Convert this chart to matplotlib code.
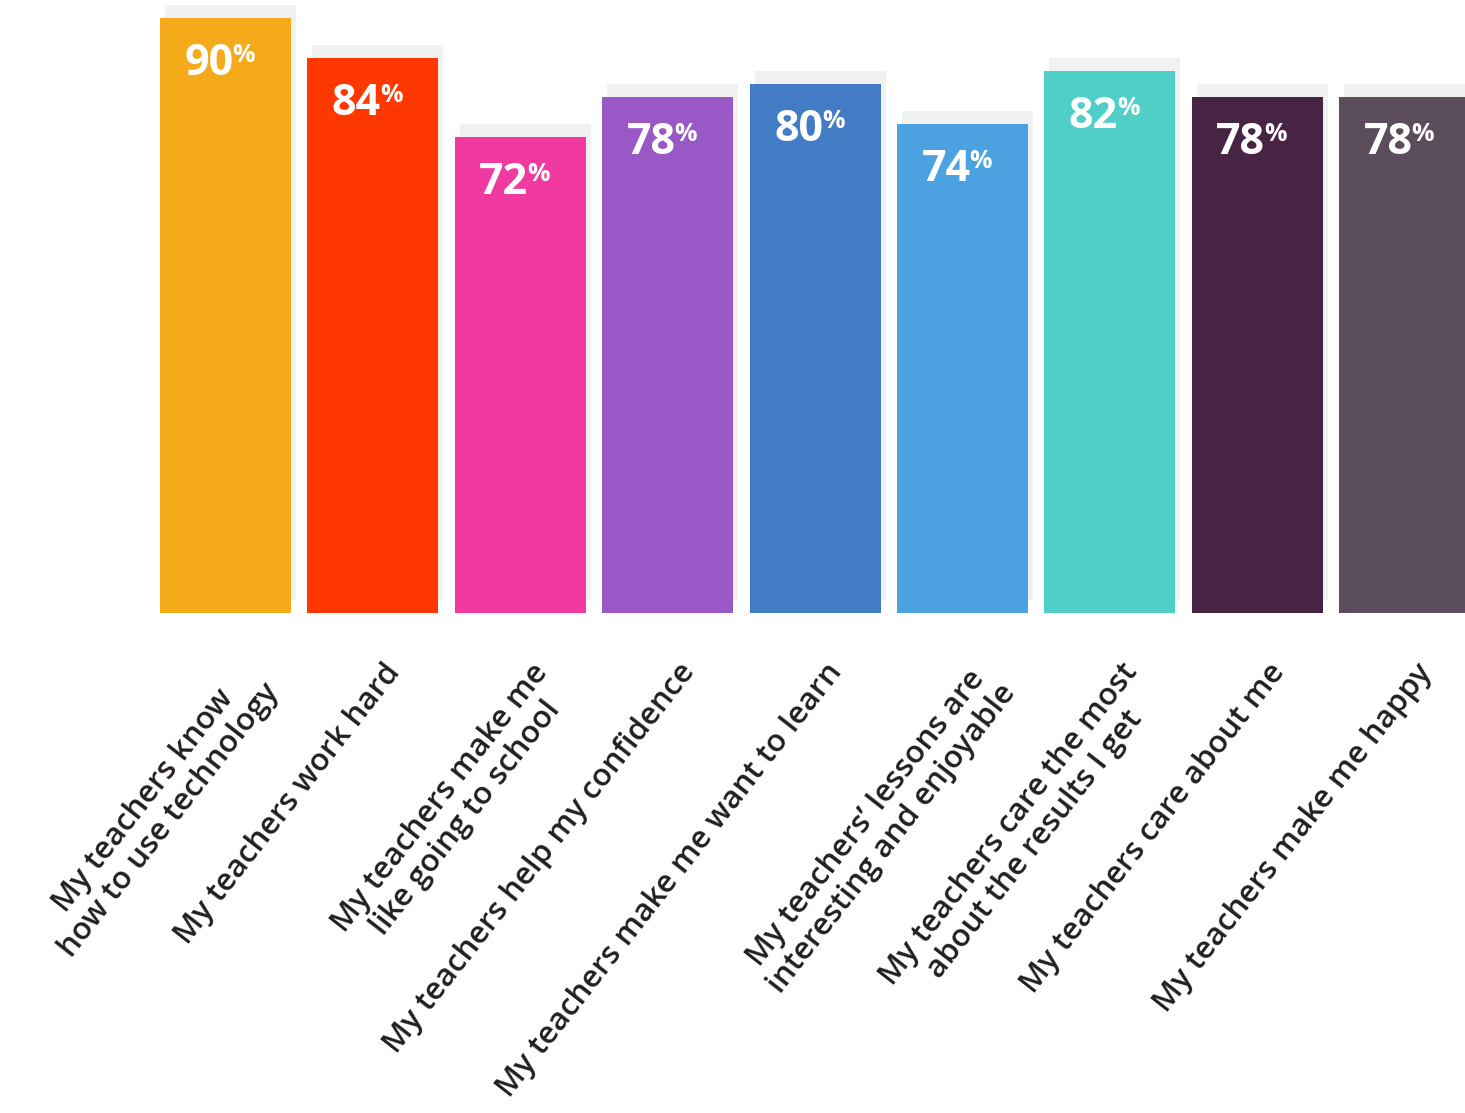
import numpy as np
import matplotlib.pyplot as plt

# data
labels = [
    "My teachers know\nhow to use technology",
    "My teachers work hard",
    "My teachers make me\nlike going to school",
    "My teachers help my confidence",
    "My teachers make me want to learn",
    "My teachers\u2019 lessons are\ninteresting and enjoyable",
    "My teachers care the most\nabout the results I get",
    "My teachers care about me",
    "My teachers make me happy",
]
values = [90, 84, 72, 78, 80, 74, 82, 78, 78]
colors = ["#f4aa19", "#ff3700", "#f03a9f", "#9858c6", "#417cc5",
          "#4ca1e0", "#50cfc8", "#472443", "#5c4d5c"]

W, H = 1465, 1113
fig = plt.figure(figsize=(W / 100, H / 100), dpi=100)
# axes spans the top of the figure, baseline at y pixel 613
ax = fig.add_axes([0, (H - 613) / H, 1, 613 / H])
ax.set_xlim(-1.530, 8.409)
ax.set_ylim(0, 92.74)
ax.axis("off")

x = np.arange(len(values))
width = 0.889

# light grey shadow boxes offset up/right
ax.bar(x + 0.034, values, width, bottom=2, color="#f1f1f1", zorder=1)
ax.bar(x, values, width, color=colors, zorder=2)

for i, v in enumerate(values):
    ax.annotate(str(v), xy=(i, v), xytext=(8, -57), textcoords="offset pixels",
                ha="right", va="baseline", color="white", fontsize=31,
                fontweight="bold", family="Open Sans", zorder=3)
    ax.annotate("%", xy=(i, v), xytext=(7, -44), textcoords="offset pixels",
                ha="left", va="baseline", color="white", fontsize=18,
                fontweight="bold", family="Open Sans", zorder=3)

for i, lab in enumerate(labels):
    ax.annotate(lab, xy=(i, 0), xytext=(10, -45), textcoords="offset pixels",
                ha="right", va="top", rotation=52, rotation_mode="anchor",
                multialignment="center", color="#231f20", fontsize=22.5,
                fontweight="semibold", family="Open Sans",
                linespacing=1.12, annotation_clip=False)

fig.savefig("out.png", dpi=100)
